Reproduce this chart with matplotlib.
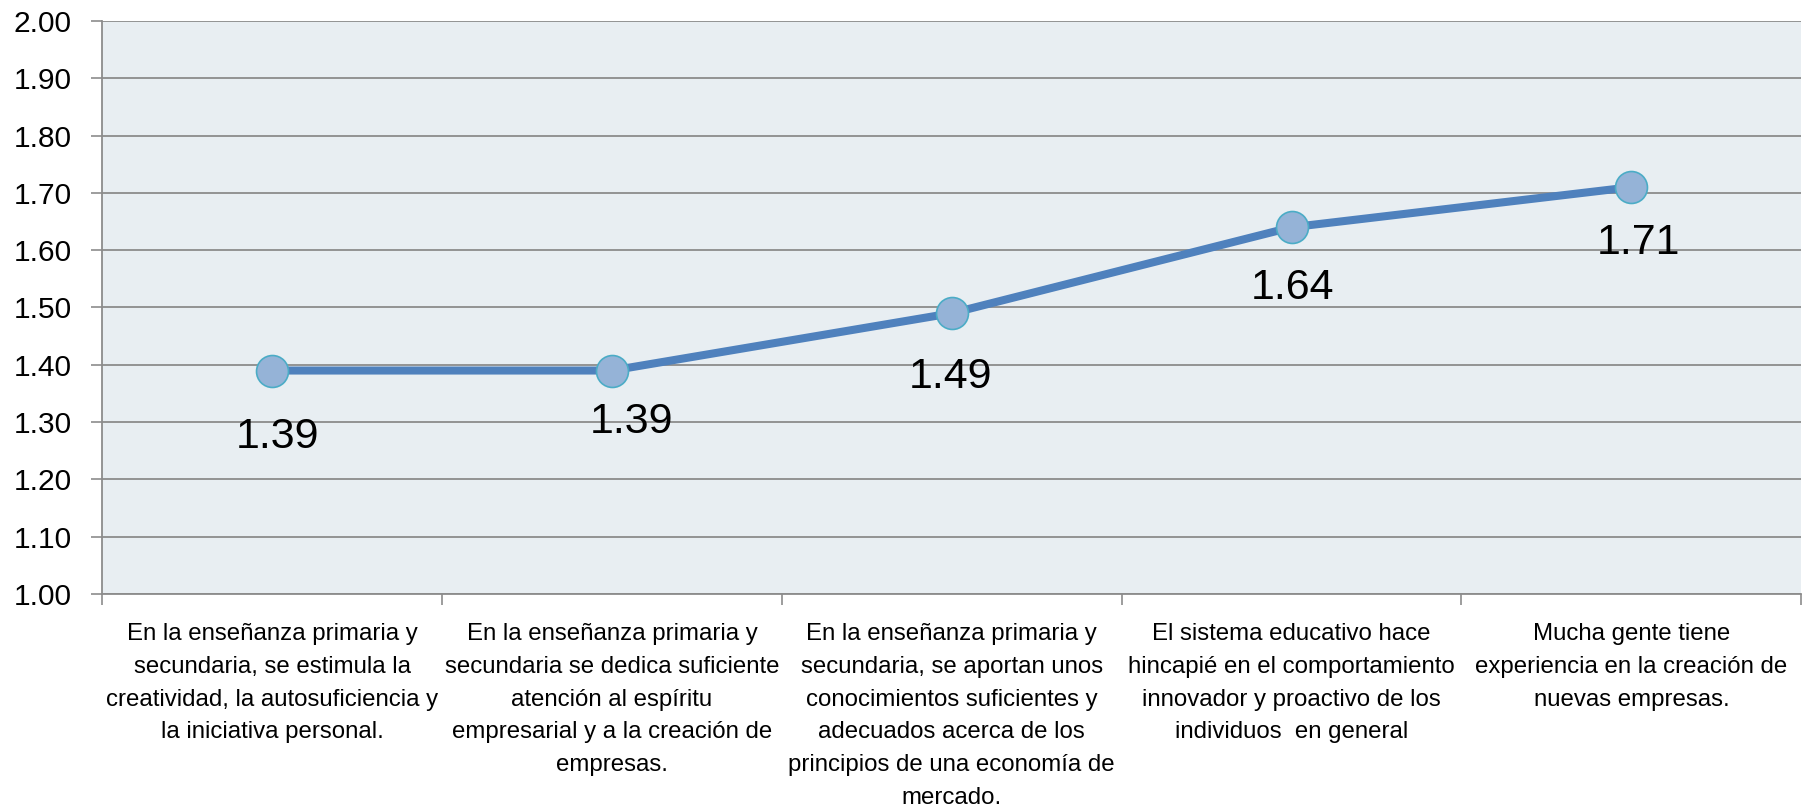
import matplotlib
matplotlib.use('Agg')
import matplotlib.pyplot as plt

# data
categorias = [
    'En la enseñanza primaria y\nsecundaria, se estimula la\ncreatividad, la autosuficiencia y\nla iniciativa personal.',
    'En la enseñanza primaria y\nsecundaria se dedica suficiente\natención al espíritu\nempresarial y a la creación de\nempresas.',
    'En la enseñanza primaria y\nsecundaria, se aportan unos\nconocimientos suficientes y\nadecuados acerca de los\nprincipios de una economía de\nmercado.',
    'El sistema educativo hace\nhincapié en el comportamiento\ninnovador y proactivo de los\nindividuos  en general',
    'Mucha gente tiene\nexperiencia en la creación de\nnuevas empresas.',
]
valores = [1.39, 1.39, 1.49, 1.64, 1.71]
y_ticks = [1.00, 1.10, 1.20, 1.30, 1.40, 1.50, 1.60, 1.70, 1.80, 1.90, 2.00]

# label offsets (points) relative to each marker
label_dx = [4, 14, -1, 1, 5]
label_dy = [-48, -37, -46, -44, -40]

plt.rcParams['font.family'] = ['Liberation Sans', 'DejaVu Sans']

fig = plt.figure(figsize=(18.08, 8.06), dpi=100)
ax = fig.add_axes([0.0565, 0.263, 0.9398, 0.711])
ax.set_facecolor('#E8EEF2')

x = list(range(1, len(valores) + 1))
ax.plot(x, valores, color='#4F81BD', lw=5.8, zorder=3, solid_capstyle='butt')
ax.plot(x, valores, ls='none', marker='o', ms=23, mfc='#95B3D7',
        mec='#4BACC6', mew=1.2, zorder=4)

for i, v in enumerate(valores):
    ax.annotate('%.2f' % v, (x[i], v), xytext=(label_dx[i], label_dy[i]),
                textcoords='offset points', ha='center', va='center',
                fontsize=31, color='black', zorder=5)

ax.set_xlim(0.5, len(valores) + 0.5)
ax.set_ylim(1.0, 2.0)
ax.set_yticks(y_ticks)
ax.set_yticklabels(['%.2f' % t for t in y_ticks])
ax.yaxis.grid(True, color='#8C8C8C', lw=1.3)
ax.set_axisbelow(True)

ax.set_xticks([i + 0.5 for i in range(len(valores) + 1)])
ax.set_xticklabels([])
ax.set_xticks(x, minor=True)
ax.set_xticklabels(categorias, minor=True, fontsize=17.3, linespacing=1.63, va='top')
ax.tick_params(axis='x', which='minor', length=0, pad=21)
ax.tick_params(axis='x', which='major', length=8, width=1.2, color='#8C8C8C')
ax.tick_params(axis='y', length=8, width=1.2, color='#8C8C8C', labelsize=21.5, pad=14)

for s in ['top', 'right']:
    ax.spines[s].set_visible(False)
for s in ['left', 'bottom']:
    ax.spines[s].set_color('#8C8C8C')
    ax.spines[s].set_linewidth(1.3)

fig.savefig('out.png', dpi=100)
